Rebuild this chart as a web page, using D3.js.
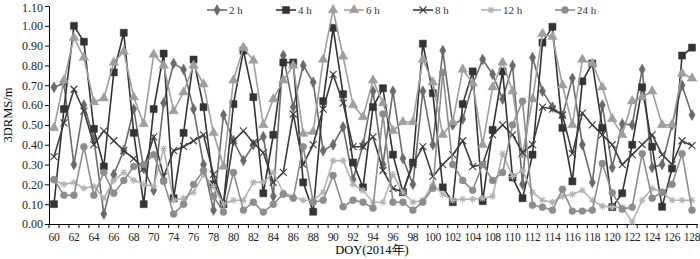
<!DOCTYPE html>
<html>
<head>
<meta charset="utf-8">
<script src="https://cdn.jsdelivr.net/npm/d3@7"></script>
<style>
  body { margin: 0; background: #fff; }
  svg text { font-family: "Liberation Serif", "Times New Roman", serif; }
</style>
</head>
<body>
<svg id="chart"></svg>
<script>
// DOY categories (some days missing)
let days = [60,61,62,63,64,65,66,67,68,69,70,71,
  74,75,76,77,78,79,80,81,82,83,84,85,86,87,88,89,90,91,92,93,94,95,96,97,98,99,100,101,102,103,104,105,
  108,109,110,111,112,113,114,115,116,117,118,119,120,121,122,123,124,125,126,127,128];

let s2h = [0.69,0.71,0.30,0.60,0.43,0.05,0.25,0.37,0.58,0.28,0.17,0.61,
  0.81,0.78,0.58,0.30,0.07,0.55,0.42,0.32,0.40,0.44,0.14,0.85,0.59,0.80,0.715,0.37,0.40,0.49,0.225,0.40,0.67,0.30,0.67,0.33,0.20,0.67,0.40,0.875,0.50,0.53,0.705,0.83,
  0.755,0.63,0.80,0.20,0.84,0.67,0.59,0.545,0.735,0.40,0.21,0.60,0.285,0.505,0.50,0.78,0.285,0.30,0.50,0.70,0.55];
let s4h = [0.10,0.58,1.00,0.92,0.48,0.29,0.765,0.965,0.46,0.10,0.58,0.86,
  0.13,0.46,0.83,0.59,0.20,0.10,0.605,0.875,0.64,0.155,0.45,0.815,0.815,0.21,0.062,0.62,0.99,0.655,0.31,0.185,0.59,0.685,0.35,0.16,0.31,0.91,0.66,0.185,0.11,0.605,0.77,0.115,
  0.475,0.77,0.235,0.13,0.35,0.915,0.995,0.485,0.215,0.72,0.81,0.485,0.085,0.155,0.40,0.69,0.39,0.087,0.28,0.85,0.89];
let s6h = [0.485,0.725,0.94,0.84,0.615,0.635,0.815,0.87,0.64,0.505,0.855,0.80,
  0.57,0.665,0.80,0.705,0.46,0.29,0.725,0.89,0.825,0.50,0.63,0.725,0.80,0.455,0.465,0.83,1.08,0.845,0.60,0.54,0.725,0.61,0.47,0.515,0.515,0.83,0.715,0.45,0.515,0.78,0.71,0.40,
  0.69,0.815,0.67,0.35,0.63,0.96,0.945,0.70,0.50,0.83,0.81,0.69,0.53,0.45,0.62,0.64,0.67,0.50,0.50,0.76,0.735];
let s8h = [0.34,0.51,0.68,0.57,0.40,0.47,0.42,0.37,0.33,0.28,0.44,0.24,
  0.37,0.39,0.42,0.45,0.25,0.10,0.42,0.47,0.41,0.36,0.21,0.26,0.555,0.30,0.40,0.58,0.755,0.61,0.39,0.39,0.44,0.27,0.18,0.16,0.30,0.39,0.24,0.30,0.35,0.42,0.29,0.30,
  0.45,0.50,0.45,0.36,0.40,0.59,0.58,0.55,0.355,0.56,0.50,0.45,0.40,0.30,0.35,0.40,0.45,0.35,0.30,0.42,0.395];
let s12h = [0.22,0.20,0.21,0.18,0.19,0.13,0.22,0.26,0.22,0.20,0.19,0.38,
  0.12,0.13,0.16,0.25,0.19,0.10,0.12,0.12,0.21,0.21,0.26,0.16,0.137,0.12,0.12,0.16,0.32,0.32,0.20,0.17,0.11,0.11,0.25,0.16,0.11,0.12,0.20,0.15,0.12,0.125,0.125,0.13,
  0.14,0.355,0.24,0.27,0.16,0.12,0.11,0.14,0.15,0.17,0.12,0.09,0.085,0.085,0.01,0.12,0.18,0.16,0.12,0.12,0.12];
let s24h = [0.225,0.145,0.145,0.39,0.145,0.26,0.155,0.22,0.29,0.30,0.35,0.215,
  0.05,0.10,0.20,0.27,0.14,0.06,0.26,0.07,0.11,0.06,0.10,0.15,0.13,0.39,0.11,0.12,0.245,0.087,0.12,0.11,0.08,0.555,0.11,0.11,0.07,0.11,0.18,0.765,0.30,0.22,0.17,0.30,
  0.22,0.26,0.50,0.62,0.095,0.085,0.07,0.175,0.065,0.065,0.07,0.305,0.157,0.075,0.085,0.355,0.13,0.16,0.20,0.355,0.07];

let seriesNames = ["2 h","4 h","6 h","8 h","12 h","24 h"];
let yTicks = [0,0.1,0.2,0.3,0.4,0.5,0.6,0.7,0.8,0.9,1.0,1.1];

let series = [
  { name: seriesNames[0], values: s2h, color: "#6a6a6a", shape: "diamond" },
  { name: seriesNames[1], values: s4h, color: "#333333", shape: "square" },
  { name: seriesNames[2], values: s6h, color: "#9e9e9e", shape: "triangle" },
  { name: seriesNames[3], values: s8h, color: "#3c3c3c", shape: "cross" },
  { name: seriesNames[4], values: s12h, color: "#b2b2b2", shape: "star" },
  { name: seriesNames[5], values: s24h, color: "#8c8c8c", shape: "circle" }
];

let width = 700, height = 259;
let margin = { top: 6, right: 3, bottom: 35, left: 49 };

let svg = d3.select("#chart").attr("width", width).attr("height", height);

let xScale = d3.scaleBand()
  .domain(days)
  .range([margin.left, width - margin.right]);

let yScale = d3.scaleLinear()
  .domain([0, 1.1])
  .range([height - margin.bottom, margin.top]);

let cx = d => xScale(d) + xScale.bandwidth() / 2;

// axes
let gY = svg.append("g").attr("transform", `translate(${margin.left},0)`)
  .call(d3.axisLeft(yScale).tickValues(yTicks).tickFormat(d3.format(".2f")).tickSize(4).tickPadding(2));
gY.selectAll("text").attr("font-size", 12).attr("fill", "#222");
// keep the top label inside the picture
gY.selectAll(".tick text").filter(d => d === 1.1).attr("dy", "0.45em");

let gX = svg.append("g").attr("transform", `translate(0,${height - margin.bottom})`)
  .call(d3.axisBottom(xScale).tickSize(0).tickPadding(9)
    .tickFormat((d, i) => i % 2 === 0 ? d : ""));
gX.selectAll("text").attr("font-size", 11.5).attr("letter-spacing", -0.3).attr("fill", "#222");

// tick marks between categories
let bounds = days.map(d => xScale(d)).concat([width - margin.right]);
gX.selectAll(".btick").data(bounds).enter().append("line")
  .attr("x1", d => d).attr("x2", d => d).attr("y1", 0).attr("y2", 4)
  .attr("stroke", "#000");

svg.selectAll(".domain").attr("stroke", "#000");

// axis titles
svg.append("text")
  .attr("x", 372).attr("y", 254)
  .attr("text-anchor", "middle").attr("font-size", 12.5)
  .text("DOY(2014年)");
svg.append("text")
  .attr("transform", `translate(12,${(margin.top + height - margin.bottom) / 2}) rotate(-90)`)
  .attr("text-anchor", "middle").attr("font-size", 12.5)
  .text("3DRMS/m");

function symbolPath(shape) {
  if (shape === "diamond") return d3.symbol(d3.symbolDiamond, 34)();
  if (shape === "square") return d3.symbol(d3.symbolSquare, 50)();
  if (shape === "triangle") return d3.symbol(d3.symbolTriangle, 40)();
  if (shape === "cross") return "M-3.5,-3.5L3.5,3.5M-3.5,3.5L3.5,-3.5";
  if (shape === "star") return "M-3.5,0L3.5,0M0,-3.5L0,3.5M-2.5,-2.5L2.5,2.5M-2.5,2.5L2.5,-2.5";
  return d3.symbol(d3.symbolCircle, 38)();
}

function drawMarker(g, s) {
  let p = g.append("path").attr("d", symbolPath(s.shape));
  if (s.shape === "cross" || s.shape === "star") {
    p.attr("fill", "none").attr("stroke", s.color).attr("stroke-width", 1.1);
  } else {
    p.attr("fill", s.color).attr("stroke", s.color).attr("stroke-width", 0.5);
  }
}

let line = d3.line().x((d, i) => cx(days[i])).y(d => yScale(d));

series.forEach(s => {
  let g = svg.append("g");
  g.append("path").datum(s.values)
    .attr("d", line)
    .attr("fill", "none")
    .attr("stroke", s.color)
    .attr("stroke-width", 1.6);
  s.values.forEach((v, i) => {
    let m = g.append("g").attr("transform", `translate(${cx(days[i])},${yScale(v)})`);
    drawMarker(m, s);
  });
});

// legend
let legendX = [207, 276, 344, 413, 481, 555];
series.forEach((s, i) => {
  let g = svg.append("g").attr("transform", `translate(${legendX[i]},10)`);
  g.append("line").attr("x1", 0).attr("x2", 20).attr("y1", 0).attr("y2", 0)
    .attr("stroke", s.color).attr("stroke-width", 1.6);
  let m = g.append("g").attr("transform", "translate(10,0)");
  drawMarker(m, s);
  g.append("text").attr("x", 22).attr("y", 4)
    .attr("font-size", 11).attr("fill", "#333")
    .text(s.name);
});
</script>
</body>
</html>
